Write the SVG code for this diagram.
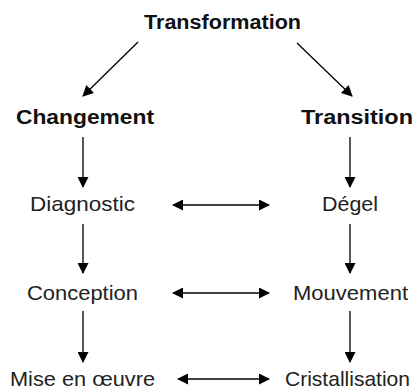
<svg xmlns="http://www.w3.org/2000/svg" width="418" height="391" viewBox="0 0 418 391">
  <defs>
    <style>
      text { font-family: "Liberation Sans", Arial, sans-serif; fill: #111; }
      .head { font-size: 20px; font-weight: bold; }
      .step { font-size: 21px; font-weight: normal; fill: #222; }
      .conn { stroke: #000; stroke-width: 1.3; fill: none; }
      .one { marker-end: url(#tip); }
      .two { marker-start: url(#tipStart); marker-end: url(#tip); }
    </style>
    <marker id="tip" viewBox="0 0 11 11" refX="10" refY="5.5" markerWidth="11" markerHeight="11" markerUnits="userSpaceOnUse" orient="auto">
      <path d="M0,0 L11,5.5 L0,11 Z" fill="#000"/>
    </marker>
    <marker id="tipStart" viewBox="0 0 11 11" refX="1" refY="5.5" markerWidth="11" markerHeight="11" markerUnits="userSpaceOnUse" orient="auto">
      <path d="M11,0 L0,5.5 L11,11 Z" fill="#000"/>
    </marker>
  </defs>
  <rect width="418" height="391" fill="#fff"/>

  <g id="transformation"><text class="head" x="144" y="29" textLength="157" lengthAdjust="spacingAndGlyphs">Transformation</text></g>
  <g id="changement"><text class="head" x="16" y="124" textLength="138" lengthAdjust="spacingAndGlyphs">Changement</text></g>
  <g id="transition"><text class="head" x="301" y="124" textLength="112" lengthAdjust="spacingAndGlyphs">Transition</text></g>

  <g id="diagnostic"><text class="step" x="30" y="211" textLength="105" lengthAdjust="spacingAndGlyphs">Diagnostic</text></g>
  <g id="degel"><text class="step" x="322" y="211" textLength="56" lengthAdjust="spacingAndGlyphs">Dégel</text></g>
  <g id="conception"><text class="step" x="27" y="300" textLength="111" lengthAdjust="spacingAndGlyphs">Conception</text></g>
  <g id="mouvement"><text class="step" x="293" y="300" textLength="115" lengthAdjust="spacingAndGlyphs">Mouvement</text></g>
  <g id="mise-en-oeuvre"><text class="step" x="10" y="386" textLength="145" lengthAdjust="spacingAndGlyphs">Mise en œuvre</text></g>
  <g id="cristallisation"><text class="step" x="285" y="386" textLength="125" lengthAdjust="spacingAndGlyphs">Cristallisation</text></g>

  <g id="connectors">
    <!-- split from the top heading -->
    <line class="conn one" x1="138" y1="42" x2="83" y2="96"/>
    <line class="conn one" x1="297" y1="43" x2="352" y2="96"/>
    <!-- left column -->
    <line class="conn one" x1="83" y1="137" x2="83" y2="187"/>
    <line class="conn one" x1="83" y1="224" x2="83" y2="273"/>
    <line class="conn one" x1="83" y1="311" x2="83" y2="362"/>
    <!-- right column -->
    <line class="conn one" x1="350" y1="137" x2="350" y2="187"/>
    <line class="conn one" x1="350" y1="224" x2="350" y2="273"/>
    <line class="conn one" x1="350" y1="311" x2="350" y2="362"/>
    <!-- pairings across -->
    <line class="conn two" x1="173" y1="205" x2="269" y2="205"/>
    <line class="conn two" x1="173" y1="293" x2="269" y2="293"/>
    <line class="conn two" x1="178" y1="379" x2="269" y2="379"/>
  </g>
</svg>
